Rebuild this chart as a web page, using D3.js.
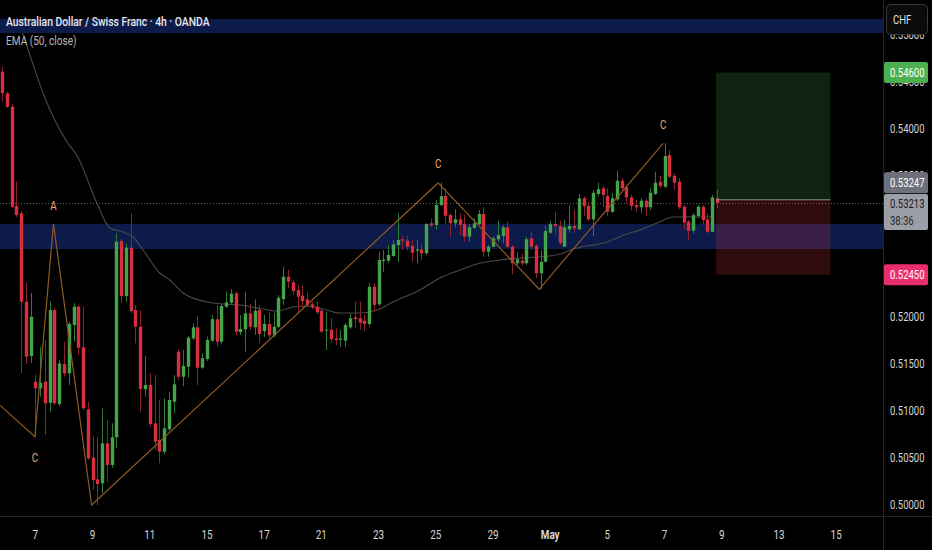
<!DOCTYPE html>
<html>
<head>
<meta charset="utf-8">
<script src="https://cdn.jsdelivr.net/npm/d3@7"></script>
<style>
  html, body { margin: 0; padding: 0; background: #000; }
  svg { display: block; font-family: Roboto, "Liberation Sans", sans-serif; }
</style>
</head>
<body>
<div id="root"></div>
<script>
// AUD/CHF 4h candles, bar 0 = last bar of Apr 3, bar 150 = current bar (May 9)
const opens = [
  0.54610,0.54380,0.54237,0.53181,0.53103,0.52163,0.51585,0.51312,0.51241,0.51312,
  0.51088,0.52074,0.51074,0.51500,0.51401,0.51915,0.52110,0.51678,0.51018,0.50503,
  0.50273,0.50231,0.50656,0.50426,0.50720,0.52809,0.52223,0.52737,0.52074,0.51897,
  0.51231,0.51277,0.50869,0.50691,0.50567,0.50805,0.51099,0.51631,0.51365,0.51471,
  0.51773,0.51890,0.51461,0.51553,0.51748,0.51976,0.51737,0.52110,0.52152,0.52252,
  0.51840,0.51869,0.52039,0.51890,0.52074,0.51851,0.51926,0.51805,0.51897,0.52191,
  0.52429,0.52369,0.52287,0.52227,0.52188,0.52135,0.52110,0.52067,0.51854,0.51865,
  0.51773,0.51759,0.51748,0.51890,0.51997,0.51986,0.51961,0.51926,0.52322,0.52135,
  0.52596,0.52599,0.52649,0.52766,0.52827,0.52812,0.52755,0.52705,0.52720,0.52678,
  0.52997,0.52979,0.53191,0.53287,0.53085,0.52997,0.53039,0.52989,0.52854,0.52947,
  0.52989,0.53096,0.52695,0.52748,0.52827,0.52862,0.52954,0.52748,0.52571,0.52599,
  0.52571,0.52837,0.52755,0.52465,0.52588,0.52897,0.52989,0.52968,0.52748,0.52933,
  0.52968,0.52933,0.53263,0.53181,0.53039,0.53309,0.53369,0.53287,0.53120,0.53252,
  0.53450,0.53380,0.53273,0.53191,0.53167,0.53237,0.53167,0.53309,0.53439,0.53386,
  0.53723,0.53500,0.53439,0.53173,0.53014,0.52918,0.53074,0.53173,0.53039,0.52907,
  0.53263
];
const highs = [
  0.54663,0.54397,0.54266,0.53439,0.53128,0.52362,0.52255,0.51383,0.51684,0.51755,
  0.52163,0.52096,0.51543,0.51737,0.51947,0.52146,0.52128,0.52110,0.51099,0.50727,
  0.50727,0.51029,0.50904,0.50869,0.52890,0.52830,0.52784,0.53103,0.52128,0.52074,
  0.51585,0.51401,0.51383,0.51117,0.51135,0.51205,0.51383,0.51656,0.51649,0.51798,
  0.51933,0.52011,0.51614,0.51790,0.52021,0.52128,0.52138,0.52269,0.52295,0.52269,
  0.52021,0.52269,0.52138,0.52188,0.52128,0.52021,0.52056,0.52046,0.52234,0.52535,
  0.52500,0.52394,0.52340,0.52333,0.52259,0.52163,0.52163,0.52085,0.52056,0.51986,
  0.51880,0.51862,0.51936,0.52032,0.52163,0.52163,0.52021,0.52365,0.52359,0.52695,
  0.52713,0.52766,0.52819,0.53103,0.52862,0.52862,0.52819,0.52819,0.52784,0.52997,
  0.53050,0.53245,0.53429,0.53369,0.53106,0.53146,0.53103,0.53085,0.52989,0.53050,
  0.53138,0.53167,0.52766,0.52862,0.53024,0.52979,0.53014,0.52766,0.52695,0.52670,
  0.52851,0.52907,0.52777,0.52713,0.52968,0.53024,0.53120,0.53024,0.53032,0.53191,
  0.53138,0.53309,0.53287,0.53227,0.53351,0.53429,0.53394,0.53369,0.53322,0.53556,
  0.53476,0.53404,0.53298,0.53245,0.53266,0.53252,0.53369,0.53546,0.53500,0.53848,
  0.53777,0.53529,0.53476,0.53191,0.53032,0.53106,0.53191,0.53191,0.53103,0.53298,
  0.53351
];
const lows = [
  0.54290,0.54223,0.53160,0.53064,0.51404,0.51500,0.51511,0.50727,0.51152,0.50745,
  0.50993,0.51064,0.51053,0.51365,0.51277,0.51737,0.51596,0.51011,0.50479,0.50160,
  0.50000,0.50128,0.50248,0.50394,0.50603,0.52149,0.52163,0.52043,0.51720,0.50993,
  0.51152,0.50833,0.50585,0.50444,0.50543,0.50787,0.50976,0.51330,0.51266,0.51354,
  0.51755,0.51277,0.51447,0.51532,0.51734,0.51684,0.51713,0.52096,0.52138,0.51809,
  0.51809,0.51631,0.51862,0.51809,0.51720,0.51787,0.51773,0.51787,0.51883,0.52128,
  0.52305,0.52234,0.52056,0.52096,0.52106,0.52085,0.52032,0.51827,0.51649,0.51727,
  0.51702,0.51684,0.51678,0.51872,0.51880,0.51869,0.51851,0.51897,0.52056,0.52117,
  0.52482,0.52571,0.52641,0.52588,0.52713,0.52713,0.52588,0.52571,0.52606,0.52660,
  0.52954,0.52933,0.53181,0.52979,0.52848,0.52954,0.52872,0.52801,0.52801,0.52936,
  0.52979,0.52641,0.52641,0.52741,0.52801,0.52784,0.52734,0.52457,0.52553,0.52543,
  0.52553,0.52713,0.52412,0.52295,0.52578,0.52883,0.52872,0.52766,0.52745,0.52897,
  0.52897,0.52926,0.53074,0.53021,0.52862,0.53287,0.53173,0.53074,0.53106,0.53234,
  0.53351,0.53210,0.53138,0.53120,0.53103,0.53074,0.53138,0.53298,0.53372,0.53372,
  0.53479,0.53351,0.53149,0.52933,0.52819,0.52890,0.53059,0.52979,0.52890,0.52899,
  0.53156
];
const closes = [
  0.54380,0.54237,0.53173,0.53085,0.52163,0.51578,0.52003,0.51241,0.51301,0.51082,
  0.52074,0.51082,0.51507,0.51401,0.51926,0.52110,0.51673,0.51029,0.50497,0.50266,
  0.50223,0.50656,0.50426,0.50720,0.52801,0.52223,0.52737,0.52064,0.51897,0.51234,
  0.51277,0.50862,0.50673,0.50567,0.50816,0.51117,0.51284,0.51365,0.51479,0.51780,
  0.51890,0.51461,0.51561,0.51755,0.51976,0.51737,0.52117,0.52156,0.52248,0.51844,
  0.51872,0.52039,0.51897,0.52067,0.51819,0.51926,0.51805,0.51897,0.52205,0.52429,
  0.52376,0.52277,0.52216,0.52170,0.52128,0.52103,0.52050,0.51844,0.51865,0.51763,
  0.51755,0.51771,0.51915,0.51986,0.51976,0.51939,0.51926,0.52322,0.52128,0.52606,
  0.52610,0.52660,0.52773,0.52819,0.52812,0.52748,0.52684,0.52720,0.52678,0.52989,
  0.52976,0.53191,0.53287,0.53078,0.52997,0.53039,0.52979,0.52854,0.52954,0.52997,
  0.53096,0.52695,0.52748,0.52837,0.52872,0.52954,0.52748,0.52571,0.52614,0.52571,
  0.52827,0.52748,0.52465,0.52588,0.52915,0.52989,0.52968,0.52790,0.52954,0.52968,
  0.52944,0.53263,0.53181,0.53039,0.53322,0.53359,0.53298,0.53120,0.53263,0.53450,
  0.53369,0.53273,0.53181,0.53167,0.53237,0.53167,0.53322,0.53429,0.53394,0.53713,
  0.53493,0.53429,0.53167,0.53003,0.52918,0.53085,0.53173,0.53032,0.52907,0.53273,
  0.53213
];

// EMA (50, close)
const emaBars = [4.3, 6.2, 8.6, 13.6, 15.9, 19.9, 22.6, 25.4, 27.5, 29.6, 33.1, 35.2, 38.0,
  43.0, 46.4, 49.9, 54.7, 57.7, 61.0, 64.0, 67.3, 70.9, 75.1, 78.7, 82.0, 87.7, 91.9,
  96.1, 99.6, 104.5, 108.7, 112.9, 117.1, 119.8, 126.9, 131.1, 133.8, 137.4, 140.8, 144.3, 149.2];
const emaValues = [0.55021, 0.54734, 0.54383, 0.53865, 0.53702, 0.53213, 0.52947, 0.52904, 0.52851,
  0.52713, 0.52468, 0.52394, 0.52255, 0.52160, 0.52138, 0.52128, 0.52085, 0.52064, 0.52106,
  0.52117, 0.52085, 0.52043, 0.52043, 0.52074, 0.52160, 0.52287, 0.52415, 0.52500, 0.52564,
  0.52606, 0.52628, 0.52638, 0.52670, 0.52723, 0.52798, 0.52883, 0.52926, 0.53000, 0.53064,
  0.53064, 0.53064];

// zigzag pattern drawing
const zigzagBars = [-0.4, 6.9, 10.8, 18.8, 91.5, 112.7, 138.7];
const zigzagPrices = [0.51060, 0.50727, 0.52989, 0.50000, 0.53426, 0.52295, 0.53848];
const zigzagLabels = ["", "C", "A", "", "C", "", "C"];

// horizontal zones [top, bottom]
const zoneTops = [0.55170, 0.52989];
const zoneBottoms = [0.55021, 0.52723];

// long position tool
const entryPrice = 0.53247;
const targetPrice = 0.54600;
const stopPrice = 0.52450;
const positionBars = [149.8, 173.8];
const lastPrice = 0.53213;
const countdown = "38:36";

// axes
const priceTicks = [0.500, 0.505, 0.510, 0.515, 0.520, 0.525, 0.530, 0.535, 0.540, 0.545, 0.550];
const dateLabels = ["7", "9", "11", "15", "17", "21", "23", "25", "29", "May", "5", "7", "9", "13", "15"];
const dateBars = [7, 19, 31, 43, 55, 67, 79, 91, 103, 115, 127, 139, 151, 163, 175];

const CONFIG = {
  width: 932,
  height: 550,
  plotRight: 883,
  plotBottom: 516,
  squeeze: 0.76,
  bodyWidth: 3.4,
  colors: {
    up: "#45a349",
    down: "#d6303f",
    upWick: "#2f7a34",
    downWick: "#8e2330",
    zone: "#0d1b4a",
    ema: "#4a4a4a",
    zigzag: "#8f5a22",
    label: "#f2a774",
    axisText: "#d6d6d6",
    grid: "#262626"
  }
};

function txt(parent, str, x, y, size) {
  return parent.append("text")
    .attr("transform", `translate(${x},${y}) scale(${CONFIG.squeeze},1)`)
    .attr("dominant-baseline", "central")
    .style("font-size", size + "px")
    .text(str);
}

function drawChart() {
  const svg = d3.select("#root").append("svg")
    .attr("width", CONFIG.width)
    .attr("height", CONFIG.height);

  svg.append("rect").attr("width", CONFIG.width).attr("height", CONFIG.height).attr("fill", "#000");

  svg.append("clipPath").attr("id", "plot-clip")
    .append("rect").attr("width", CONFIG.plotRight).attr("height", CONFIG.plotBottom);

  const xScale = d3.scaleLinear().domain([0, 150]).range([2, 717]);
  const yScale = d3.scaleLinear().domain([0.50, 0.54]).range([505, 129]);

  const plot = svg.append("g").attr("clip-path", "url(#plot-clip)");

  // zones
  plot.selectAll("rect.zone")
    .data(zoneTops)
    .enter().append("rect")
    .attr("class", "zone")
    .attr("x", 0)
    .attr("width", CONFIG.plotRight)
    .attr("y", d => yScale(d))
    .attr("height", (d, i) => yScale(zoneBottoms[i]) - yScale(d))
    .attr("fill", CONFIG.colors.zone);

  // EMA
  const emaLine = d3.line().x(d => xScale(d[0])).y(d => yScale(d[1])).curve(d3.curveMonotoneX);
  plot.append("path")
    .datum(emaBars.map((b, i) => [b, emaValues[i]]))
    .attr("d", emaLine)
    .attr("fill", "none")
    .attr("stroke", CONFIG.colors.ema)
    .attr("stroke-width", 1.1);

  // last price dotted line
  plot.append("line")
    .attr("x1", 0).attr("x2", CONFIG.plotRight)
    .attr("y1", Math.round(yScale(lastPrice)) + 0.5)
    .attr("y2", Math.round(yScale(lastPrice)) + 0.5)
    .attr("stroke", "#5e5e5e")
    .attr("stroke-dasharray", "1,2");

  // candles
  const idx = d3.range(opens.length);
  plot.selectAll("line.wick")
    .data(idx)
    .enter().append("line")
    .attr("class", "wick")
    .attr("x1", i => Math.round(xScale(i)) + 0.5)
    .attr("x2", i => Math.round(xScale(i)) + 0.5)
    .attr("y1", i => yScale(highs[i]))
    .attr("y2", i => yScale(lows[i]))
    .attr("stroke", i => closes[i] >= opens[i] ? CONFIG.colors.upWick : CONFIG.colors.downWick)
    .attr("stroke-width", 1);

  plot.selectAll("rect.body")
    .data(idx)
    .enter().append("rect")
    .attr("class", "body")
    .attr("x", i => Math.round(xScale(i)) + 0.5 - CONFIG.bodyWidth / 2)
    .attr("width", CONFIG.bodyWidth)
    .attr("y", i => yScale(Math.max(opens[i], closes[i])))
    .attr("height", i => Math.max(1, Math.abs(yScale(opens[i]) - yScale(closes[i]))))
    .attr("fill", i => closes[i] >= opens[i] ? CONFIG.colors.up : CONFIG.colors.down);

  // zigzag
  const zz = zigzagBars.map((b, i) => [b, zigzagPrices[i]]);
  plot.append("path")
    .datum(zz)
    .attr("d", d3.line().x(d => xScale(d[0])).y(d => yScale(d[1])))
    .attr("fill", "none")
    .attr("stroke", CONFIG.colors.zigzag)
    .attr("stroke-width", 1.2);

  zz.forEach((p, i) => {
    if (!zigzagLabels[i]) return;
    const prev = zz[i - 1] ? zz[i - 1][1] : p[1];
    const isPeak = p[1] > prev;
    txt(plot, zigzagLabels[i], xScale(p[0]), yScale(p[1]) + (isPeak ? -19 : 21), 13)
      .attr("text-anchor", "middle")
      .attr("fill", CONFIG.colors.label);
  });

  // position tool
  const px0 = xScale(positionBars[0]);
  const pw = xScale(positionBars[1]) - px0;
  plot.append("rect")
    .attr("x", px0).attr("width", pw)
    .attr("y", yScale(targetPrice))
    .attr("height", yScale(entryPrice) - yScale(targetPrice))
    .attr("fill", "rgba(76,175,80,0.2)");
  plot.append("rect")
    .attr("x", px0).attr("width", pw)
    .attr("y", yScale(entryPrice))
    .attr("height", yScale(stopPrice) - yScale(entryPrice))
    .attr("fill", "rgba(242,54,69,0.2)");
  plot.append("line")
    .attr("x1", px0).attr("x2", px0 + pw)
    .attr("y1", yScale(entryPrice)).attr("y2", yScale(entryPrice))
    .attr("stroke", "#8d8f96").attr("stroke-width", 1);

  // legend
  txt(svg, "Australian Dollar / Swiss Franc · 4h · OANDA", 6, 21, 13.6)
    .attr("fill", "#e6e6e6")
    .style("font-weight", 500);
  txt(svg, "EMA (50, close)", 6, 40, 13.3)
    .attr("fill", "#b8b8b8");

  // separators
  svg.append("line")
    .attr("x1", CONFIG.plotRight + 0.5).attr("x2", CONFIG.plotRight + 0.5)
    .attr("y1", 0).attr("y2", CONFIG.height)
    .attr("stroke", CONFIG.colors.grid);
  svg.append("line")
    .attr("x1", 0).attr("x2", CONFIG.width)
    .attr("y1", CONFIG.plotBottom + 0.5).attr("y2", CONFIG.plotBottom + 0.5)
    .attr("stroke", CONFIG.colors.grid);

  // price tags (drawn over the scale, as on the chart)
  const tags = [
    { text: targetPrice.toFixed(5), y: yScale(targetPrice), fill: "#4caf50", color: "#fff", h: 21 },
    { text: stopPrice.toFixed(5), y: yScale(stopPrice), fill: "#ea2e6b", color: "#fff", h: 21 },
    { text: entryPrice.toFixed(5), y: yScale(entryPrice) - 17, fill: "#6e717b", color: "#fff", h: 21 },
    { text: null, y: yScale(lastPrice) + 9, fill: "#9c9fa7", h: 36 }
  ];

  // price axis: a tick label wholly under a tag is not drawn, one partly under it keeps its sliver
  const hidden = t => tags.some(tg =>
    yScale(t) - 5 >= tg.y - tg.h / 2 && yScale(t) + 5 <= tg.y + tg.h / 2);
  priceTicks.filter(t => !hidden(t)).forEach(t => {
    txt(svg, t.toFixed(5), 890, yScale(t), 12.5).attr("fill", CONFIG.colors.axisText);
  });

  // time axis
  dateBars.forEach((b, i) => {
    txt(svg, dateLabels[i], xScale(b), 534, 13)
      .attr("text-anchor", "middle")
      .attr("fill", CONFIG.colors.axisText)
      .style("font-weight", dateLabels[i] === "May" ? "bold" : "normal");
  });

  tags.forEach(tg => {
    svg.append("rect")
      .attr("x", 884).attr("y", tg.y - tg.h / 2)
      .attr("width", 44).attr("height", tg.h)
      .attr("rx", 2)
      .attr("fill", tg.fill);
    if (tg.text) txt(svg, tg.text, 890, tg.y, 12.5).attr("fill", tg.color);
  });

  const ly = yScale(lastPrice);
  txt(svg, lastPrice.toFixed(5), 890, ly + 1, 12.5).attr("fill", "#1c1c1c");
  txt(svg, countdown, 890, ly + 18, 12.5).attr("fill", "#2a2a2a");

  // currency button
  svg.append("rect")
    .attr("x", 886.5).attr("y", 4.5)
    .attr("width", 41).attr("height", 30)
    .attr("rx", 4)
    .attr("fill", "#0b0b0b")
    .attr("stroke", "#3a3a3a");
  txt(svg, "CHF", 893, 20, 12.5).attr("fill", "#e0e0e0");
}

drawChart();
</script>
</body>
</html>
